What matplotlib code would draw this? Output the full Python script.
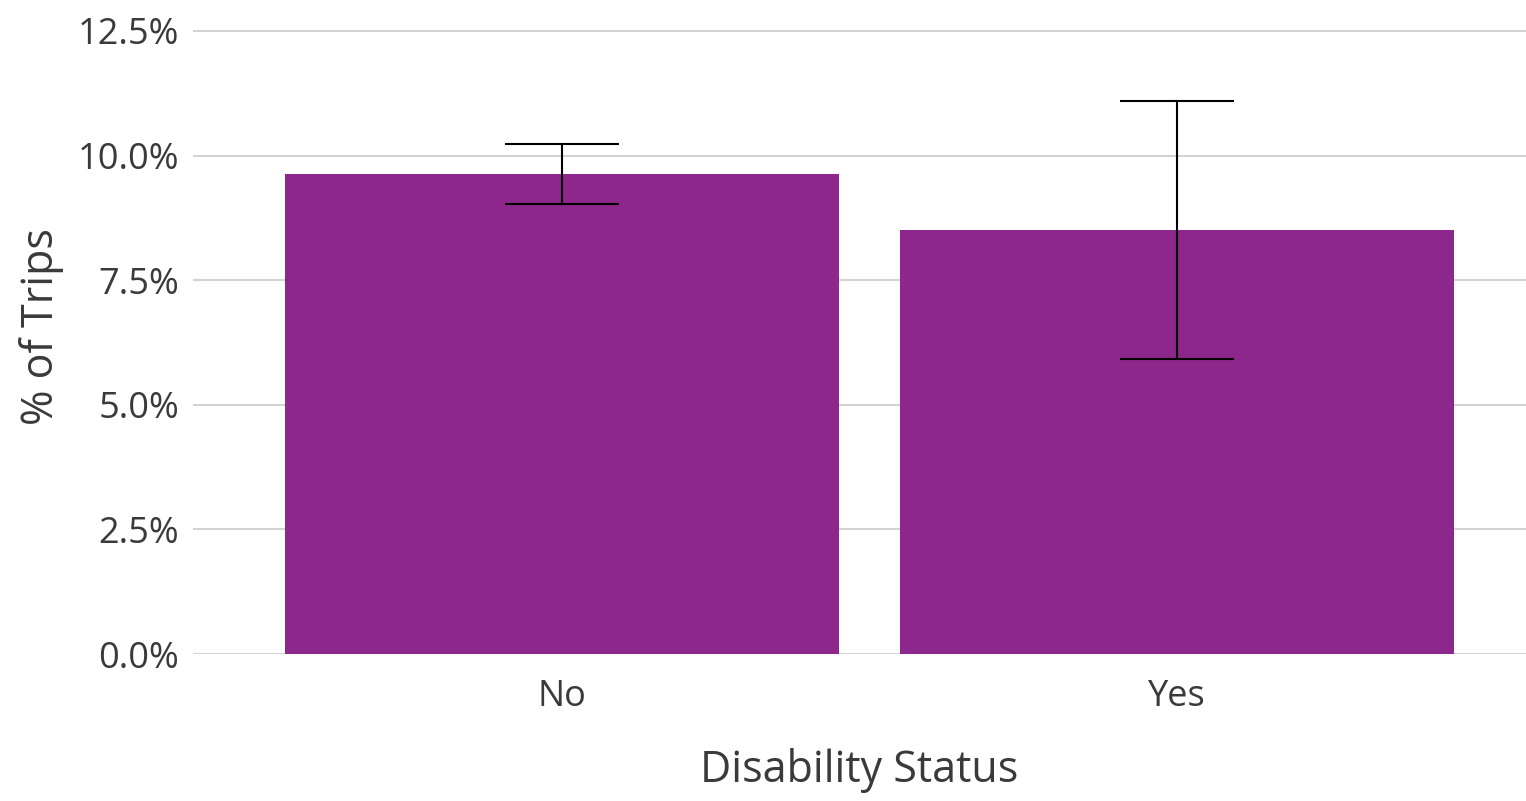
import numpy as np
import matplotlib.pyplot as plt
from matplotlib.ticker import FuncFormatter

# Data
categories = ['No', 'Yes']
pct_trips = [9.63, 8.51]
ci_low = [9.03, 5.92]
ci_high = [10.23, 11.10]

bar_color = '#8E278C'
text_color = '#3a3a3a'

plt.rcParams['font.family'] = ['Open Sans', 'DejaVu Sans']

fig = plt.figure(figsize=(15.26, 8.01), dpi=100)
ax = fig.add_axes([0.1265, 0.1835, 0.8735, 0.8165])

x = np.arange(len(categories))
vals = np.array(pct_trips)
yerr = np.array([vals - np.array(ci_low), np.array(ci_high) - vals])

ax.bar(x, vals, width=0.9, color=bar_color, zorder=2)
ax.errorbar(x, vals, yerr=yerr, fmt='none', ecolor='black',
            elinewidth=1.5, capsize=41, capthick=1.5, zorder=3)

ax.set_xlim(-0.6, 1.567)
ax.set_ylim(0, 13.12)
ax.set_yticks([0, 2.5, 5, 7.5, 10, 12.5])
ax.yaxis.set_major_formatter(FuncFormatter(lambda v, _: f'{v:.1f}%'))
ax.set_xticks(x)
ax.set_xticklabels(categories)

ax.grid(axis='y', color='#d3d3d3', linewidth=1.5, zorder=0)
ax.set_axisbelow(True)
for s in ax.spines.values():
    s.set_visible(False)
ax.tick_params(length=0, labelsize=26, colors=text_color)
ax.tick_params(axis='y', pad=10)
ax.tick_params(axis='x', pad=18)

ax.set_xlabel('Disability Status', fontsize=31, color=text_color, labelpad=24)
ax.set_ylabel('% of Trips', fontsize=31, color=text_color, labelpad=10)

fig.savefig('out.png', dpi=100)
